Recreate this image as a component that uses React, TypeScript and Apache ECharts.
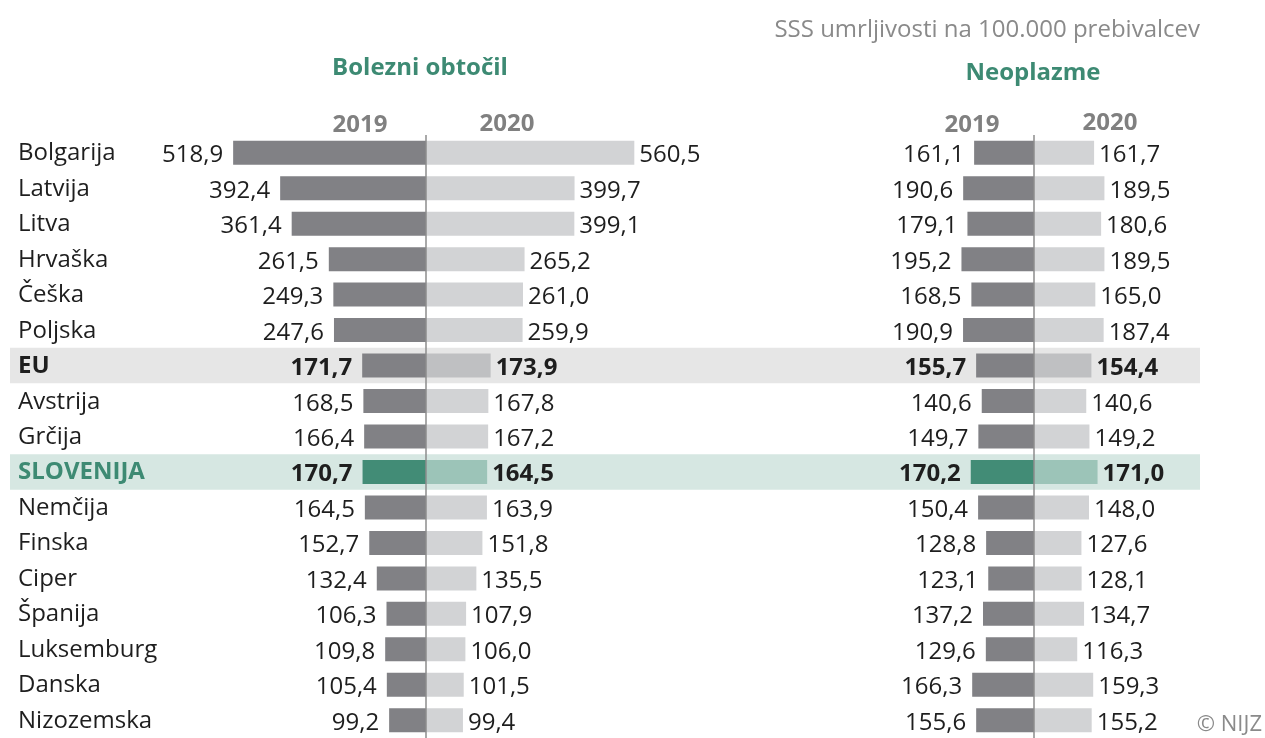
import React, { useEffect, useRef } from "react";
import * as echarts from "echarts";

const countries = ["Bolgarija","Latvija","Litva","Hrvaška","Češka","Poljska","EU","Avstrija","Grčija","SLOVENIJA","Nemčija","Finska","Ciper","Španija","Luksemburg","Danska","Nizozemska"];
const circ2019 = [518.9,392.4,361.4,261.5,249.3,247.6,171.7,168.5,166.4,170.7,164.5,152.7,132.4,106.3,109.8,105.4,99.2];
const circ2020 = [560.5,399.7,399.1,265.2,261.0,259.9,173.9,167.8,167.2,164.5,163.9,151.8,135.5,107.9,106.0,101.5,99.4];
const neo2019 = [161.1,190.6,179.1,195.2,168.5,190.9,155.7,140.6,149.7,170.2,150.4,128.8,123.1,137.2,129.6,166.3,155.6];
const neo2020 = [161.7,189.5,180.6,189.5,165.0,187.4,154.4,140.6,149.2,171.0,148.0,127.6,128.1,134.7,116.3,159.3,155.2];
const years = ["2019", "2020"];
const panelTitles = ["Bolezni obtočil", "Neoplazme"];
const unitNote = "SSS umrljivosti na 100.000 prebivalcev";
const credit = "© NIJZ";

const FONT = "'Open Sans', 'Noto Sans', sans-serif";
const GREEN = "#3d8a73";
const GRAY_TXT = "#8a8a8a";
const C19 = "#818185";
const C20 = "#d2d3d5";
const EU20 = "#bfc0c2";
const SI19 = "#428c76";
const SI20 = "#9cc4b8";
const EU_BAND = "#e6e6e6";
const SI_BAND = "#d6e7e2";
const VAL_SIZE = 24;

const fmt = (v: number) => Math.abs(v).toFixed(1).replace(".", ",");

function barData(vals: number[], year: number) {
  return vals.map((v, i) => {
    const c = countries[i];
    const val = year === 2019 ? -v : v;
    let color = year === 2019 ? C19 : C20;
    let bold = false;
    if (c === "EU") { bold = true; if (year === 2020) color = EU20; }
    if (c === "SLOVENIJA") { bold = true; color = year === 2019 ? SI19 : SI20; }
    return {
      value: val,
      itemStyle: { color },
      label: { fontWeight: bold ? "bold" : "normal" },
    };
  });
}

function barSeries(vals: number[], year: number, gridIdx: number, withLine: boolean) {
  const s: any = {
    type: "bar",
    xAxisIndex: gridIdx,
    yAxisIndex: gridIdx,
    stack: "p" + gridIdx,
    barWidth: 24,
    z: 3,
    data: barData(vals, year),
    label: {
      show: true,
      position: year === 2019 ? "left" : "right",
      distance: year === 2019 ? 10 : 5,
      fontFamily: FONT,
      fontSize: VAL_SIZE,
      color: "#1e1e1e",
      formatter: (p: any) => fmt(p.value),
    },
    silent: true,
  };
  if (withLine) {
    s.markLine = {
      silent: true,
      symbol: "none",
      label: { show: false },
      lineStyle: { color: "#8c8c8c", width: 1.5, type: "solid" },
      data: [{ xAxis: 0 }],
      z: 5,
    };
  }
  return s;
}

export default function App() {
  const ref = useRef<HTMLDivElement>(null);
  useEffect(() => {
    if (!ref.current) return;
    const chart = echarts.init(ref.current, null, { renderer: "svg" });
    const top = 135;
    const height = 605;
    const catAxis = (idx: number, showLabels: boolean) => ({
      type: "category",
      gridIndex: idx,
      data: countries,
      inverse: true,
      axisLine: { show: false, onZero: false },
      axisTick: { show: false },
      splitLine: { show: false },
      axisLabel: showLabels
        ? {
            show: true,
            align: "left",
            margin: 185,
            fontFamily: FONT,
            fontSize: VAL_SIZE,
            color: "#1e1e1e",
            padding: [0, 0, 4, 0],
            formatter: (v: string) =>
              v === "EU" ? "{eu|" + v + "}" : v === "SLOVENIJA" ? "{si|" + v + "}" : v,
            rich: {
              eu: { fontFamily: FONT, fontSize: VAL_SIZE, fontWeight: "bold", color: "#1e1e1e" },
              si: { fontFamily: FONT, fontSize: VAL_SIZE, fontWeight: "bold", color: GREEN },
            },
          }
        : { show: false },
    });
    const valAxis = (idx: number, min: number, max: number) => ({
      type: "value",
      gridIndex: idx,
      min,
      max,
      show: false,
      splitLine: { show: false },
    });
    chart.setOption({
      animation: false,
      grid: [
        { left: 203, width: 446, top, height },
        { left: 922.5, width: 223, top, height },
        { left: 10, width: 1190, top, height, z: 0 },
      ],
      xAxis: [valAxis(0, -600, 600), valAxis(1, -300, 300), valAxis(2, 0, 1)],
      yAxis: [catAxis(0, true), catAxis(1, false), catAxis(2, false)],
      series: [
        {
          type: "bar",
          xAxisIndex: 2,
          yAxisIndex: 2,
          barWidth: "100%",
          z: 0,
          silent: true,
          data: countries.map((c) =>
            c === "EU"
              ? { value: 1, itemStyle: { color: EU_BAND } }
              : c === "SLOVENIJA"
              ? { value: 1, itemStyle: { color: SI_BAND } }
              : "-"
          ),
        },
        barSeries(circ2019, 2019, 0, true),
        barSeries(circ2020, 2020, 0, false),
        barSeries(neo2019, 2019, 1, true),
        barSeries(neo2020, 2020, 1, false),
      ],
      graphic: [
        { type: "text", x: 1200, y: 27, style: { text: unitNote, fontFamily: FONT, fontSize: 24, fill: GRAY_TXT, align: "right", verticalAlign: "middle" } },
        { type: "text", x: 420, y: 65, style: { text: panelTitles[0], fontFamily: FONT, fontSize: 24, fontWeight: "bold", fill: GREEN, align: "center", verticalAlign: "middle" } },
        { type: "text", x: 1033, y: 70, style: { text: panelTitles[1], fontFamily: FONT, fontSize: 24, fontWeight: "bold", fill: GREEN, align: "center", verticalAlign: "middle" } },
        { type: "text", x: 360, y: 122, style: { text: years[0], fontFamily: FONT, fontSize: 24, fontWeight: "bold", fill: "#808080", align: "center", verticalAlign: "middle" } },
        { type: "text", x: 507, y: 121, style: { text: years[1], fontFamily: FONT, fontSize: 24, fontWeight: "bold", fill: "#808080", align: "center", verticalAlign: "middle" } },
        { type: "text", x: 972, y: 122, style: { text: years[0], fontFamily: FONT, fontSize: 24, fontWeight: "bold", fill: "#808080", align: "center", verticalAlign: "middle" } },
        { type: "text", x: 1110, y: 120, style: { text: years[1], fontFamily: FONT, fontSize: 24, fontWeight: "bold", fill: "#808080", align: "center", verticalAlign: "middle" } },
        { type: "text", x: 1262, y: 722, style: { text: credit, fontFamily: FONT, fontSize: 22, fill: GRAY_TXT, align: "right", verticalAlign: "middle" } },
      ],
    });
    return () => chart.dispose();
  }, []);
  return <div ref={ref} style={{ position: "fixed", left: 0, top: 0, width: 1265, height: 738 }} />;
}
